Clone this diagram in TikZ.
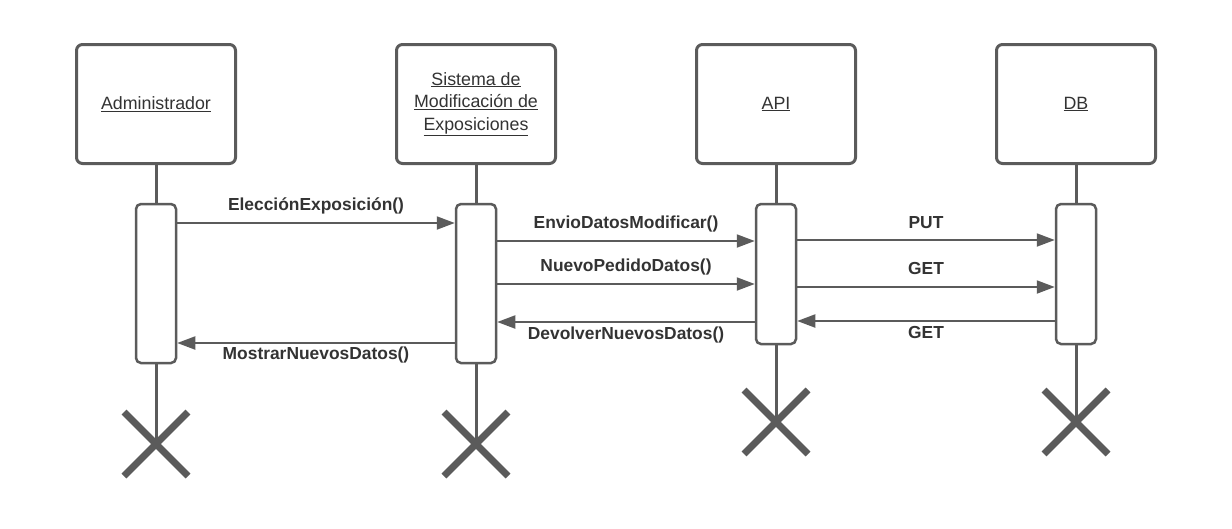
\documentclass[tikz,border=0pt]{standalone}
\usepackage{fontspec}
\setmainfont{Liberation Sans}
\usetikzlibrary{arrows.meta,calc}
\definecolor{ln}{HTML}{5B5B5B}
\definecolor{tx}{HTML}{333333}
\begin{document}
\begin{tikzpicture}[x=1pt,y=-1pt,
 head/.style={draw=ln,line width=3pt,rounded corners=6pt,minimum width=159pt,minimum height=119pt,inner sep=0pt,align=center,font=\fontsize{17.8}{22.5}\selectfont,text=tx,fill=white},
 act/.style={draw=ln,line width=2.5pt,rounded corners=5pt,minimum width=40pt,inner sep=0pt,fill=white},
 life/.style={draw=ln,line width=3pt},
 msg/.style={draw=ln,line width=2pt,-{Triangle[length=18pt,width=13pt]}},
 lbl/.style={font=\bfseries\fontsize{17.4}{20}\selectfont,text=tx,midway},
 lblup/.style={lbl,yshift=17pt},
 lbldn/.style={lbl,yshift=-12pt},
 kill/.style={draw=ln,line width=7pt}]
\useasboundingbox (0,0) rectangle (1232,528);
\fill[white] (0,0) rectangle (1232,528);

% heads
\node[head] (hA) at (156,104) {\underline{Administrador}};
\node[head] (hS) at (476,104) {\underline{Sistema de}\\\underline{Modificación de}\\\underline{Exposiciones}};
\node[head] (hP) at (776,104) {\underline{API}};
\node[head] (hD) at (1076,104) {\underline{DB}};

% activations
\node[act,minimum height=159pt] (aA) at (156,283.5) {};
\node[act,minimum height=159pt] (aS) at (476,283.5) {};
\node[act,minimum height=140pt] (aP) at (776,274) {};
\node[act,minimum height=140pt] (aD) at (1076,274) {};

% end coordinates
\coordinate (xA) at (156,444);
\coordinate (xS) at (476,444);
\coordinate (xP) at (776,422);
\coordinate (xD) at (1076,422);

% lifelines
\draw[life] (hA.south) -- (aA.north);
\draw[life] (hS.south) -- (aS.north);
\draw[life] (hP.south) -- (aP.north);
\draw[life] (hD.south) -- (aD.north);
\draw[life] (aA.south) -- (xA);
\draw[life] (aS.south) -- (xS);
\draw[life] (aP.south) -- (xP);
\draw[life] (aD.south) -- (xD);

% destruction marks
\foreach \c in {xA,xS,xP,xD}{
  \draw[kill] ($(\c)+(-32,-32)$) -- ($(\c)+(32,32)$);
  \draw[kill] ($(\c)+(-32,32)$) -- ($(\c)+(32,-32)$);
}

% messages
\draw[msg] (aA.east |- 0,223) -- node[lblup] {ElecciónExposición()} (aS.west |- 0,223);
\draw[msg] (aS.east |- 0,241) -- node[lblup] {EnvioDatosModificar()} (aP.west |- 0,241);
\draw[msg] (aS.east |- 0,284) -- node[lblup] {NuevoPedidoDatos()} (aP.west |- 0,284);
\draw[msg] (aP.west |- 0,322) -- node[lbldn,yshift=-1pt] {DevolverNuevosDatos()} (aS.east |- 0,322);
\draw[msg] (aS.west |- 0,343) -- node[lbldn] {MostrarNuevosDatos()} (aA.east |- 0,343);
\draw[msg] (aP.east |- 0,240) -- node[lblup] {PUT} (aD.west |- 0,240);
\draw[msg] (aP.east |- 0,287) -- node[lblup,yshift=1pt] {GET} (aD.west |- 0,287);
\draw[msg] (aD.west |- 0,321) -- node[lbldn] {GET} (aP.east |- 0,321);
\end{tikzpicture}
\end{document}
